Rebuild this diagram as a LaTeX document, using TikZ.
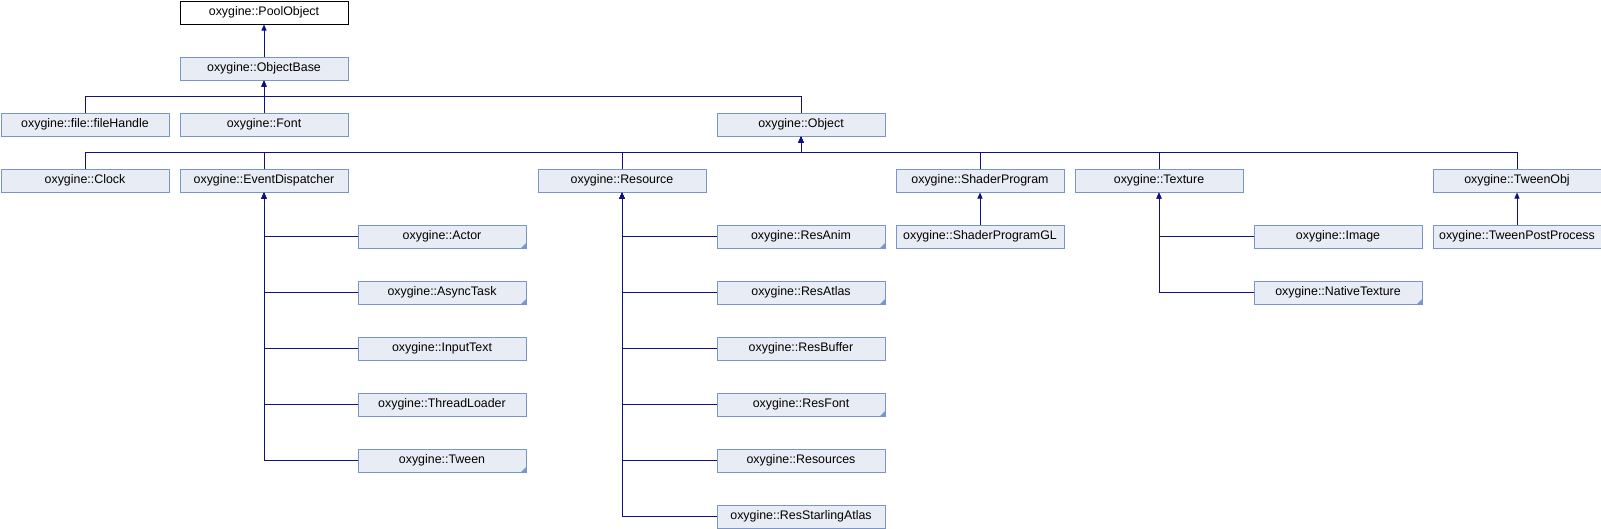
\documentclass[tikz,border=0pt]{standalone}
\usepackage{fontspec}
\setmainfont{Liberation Sans}
\usetikzlibrary{arrows.meta}
\definecolor{boxfill}{RGB}{232,236,245}
\definecolor{boxline}{RGB}{122,149,200}
\definecolor{edgecol}{RGB}{16,16,130}
\tikzset{
  cls/.style={draw=boxline, fill=boxfill, line width=1pt, anchor=north west,
    minimum width=168pt, minimum height=23pt, inner sep=0pt,
    text height=9pt, text depth=2.6pt,
    font=\fontsize{12.4}{14}\selectfont},
  rootcls/.style={cls, draw=black, fill=white},
  inh/.style={draw=edgecol, line width=1pt, -{Triangle[length=6pt,width=5pt]}},
  corner/.style={fill=boxline}
}
\begin{document}
\begin{tikzpicture}[x=1pt,y=-1pt]
\useasboundingbox (0,0) rectangle (1601,528);
% row 0-2
\node[rootcls] (PoolObject) at (179.5,0.5) {oxygine::PoolObject};
\node[cls] (ObjectBase) at (179.5,56.5) {oxygine::ObjectBase};
\node[cls] (fileHandle) at (0.5,112.5) {oxygine::file::fileHandle};
\node[cls] (Font) at (179.5,112.5) {oxygine::Font};
\node[cls] (Object) at (716.5,112.5) {oxygine::Object};
% row 3
\node[cls] (Clock) at (0.5,168.5) {oxygine::Clock};
\node[cls] (EventDispatcher) at (179.5,168.5) {oxygine::EventDispatcher};
\node[cls] (Resource) at (537.5,168.5) {oxygine::Resource};
\node[cls] (ShaderProgram) at (895.5,168.5) {oxygine::ShaderProgram};
\node[cls] (Texture) at (1074.5,168.5) {oxygine::Texture};
\node[cls] (TweenObj) at (1432.5,168.5) {oxygine::TweenObj};
% EventDispatcher children
\node[cls] (Actor) at (357.5,224.5) {oxygine::Actor};
\node[cls] (AsyncTask) at (357.5,280.5) {oxygine::AsyncTask};
\node[cls] (InputText) at (357.5,336.5) {oxygine::InputText};
\node[cls] (ThreadLoader) at (357.5,392.5) {oxygine::ThreadLoader};
\node[cls] (Tween) at (357.5,448.5) {oxygine::Tween};
% Resource children
\node[cls] (ResAnim) at (716.5,224.5) {oxygine::ResAnim};
\node[cls] (ResAtlas) at (716.5,280.5) {oxygine::ResAtlas};
\node[cls] (ResBuffer) at (716.5,336.5) {oxygine::ResBuffer};
\node[cls] (ResFont) at (716.5,392.5) {oxygine::ResFont};
\node[cls] (Resources) at (716.5,448.5) {oxygine::Resources};
\node[cls] (ResStarlingAtlas) at (716.5,504.5) {oxygine::ResStarlingAtlas};
% others
\node[cls] (ShaderProgramGL) at (895.5,224.5) {oxygine::ShaderProgramGL};
\node[cls] (Image) at (1253.5,224.5) {oxygine::Image};
\node[cls] (NativeTexture) at (1253.5,280.5) {oxygine::NativeTexture};
\node[cls] (TweenPostProcess) at (1432.5,224.5) {oxygine::TweenPostProcess};
% corner marks
\foreach \n in {Actor,AsyncTask,Tween,ResAnim,ResAtlas,ResFont,NativeTexture}
  \fill[corner] ([shift={(-0.5,-0.5)}]\n.south east) -- ++(-5,0) -- ++(5,-5) -- cycle;
% buses
\coordinate (busA) at (0,96);
\coordinate (busB) at (0,152);
% edges
\draw[inh] (ObjectBase.north) -- (PoolObject.south);
\draw[inh] (Font.north) -- (ObjectBase.south);
\draw[inh] (fileHandle.north) |- (busA -| ObjectBase.south) -- (ObjectBase.south);
\draw[inh] (Object.north) |- (busA -| ObjectBase.south) -- (ObjectBase.south);
\foreach \c in {Clock,EventDispatcher,Resource,ShaderProgram,Texture,TweenObj}
  \draw[inh] (\c.north) |- (busB -| Object.south) -- (Object.south);
\foreach \c in {Actor,AsyncTask,InputText,ThreadLoader,Tween}
  \draw[inh] (\c.west) -| (EventDispatcher.south);
\foreach \c in {ResAnim,ResAtlas,ResBuffer,ResFont,Resources,ResStarlingAtlas}
  \draw[inh] (\c.west) -| (Resource.south);
\foreach \c in {Image,NativeTexture}
  \draw[inh] (\c.west) -| (Texture.south);
\draw[inh] (ShaderProgramGL.north) -- (ShaderProgram.south);
\draw[inh] (TweenPostProcess.north) -- (TweenObj.south);
\end{tikzpicture}
\end{document}
